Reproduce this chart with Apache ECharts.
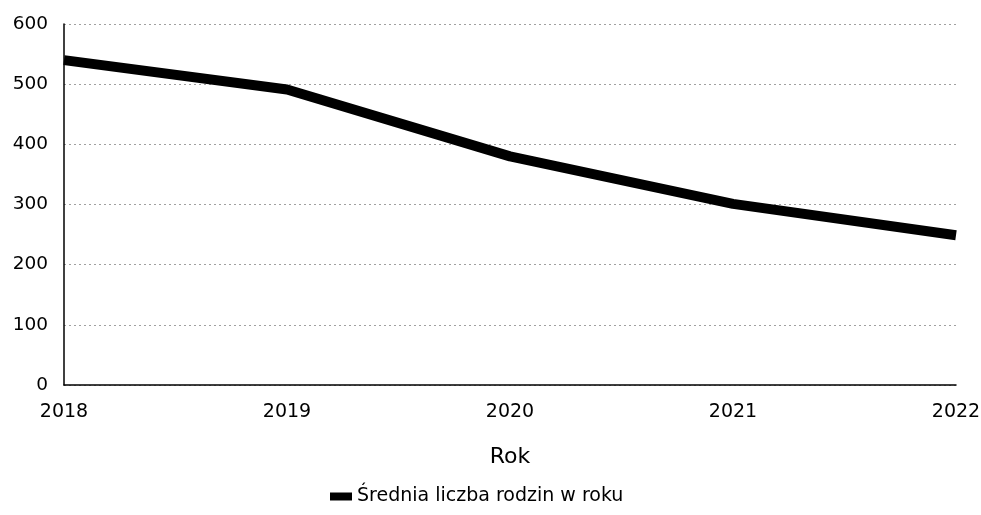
<!DOCTYPE html>
<html>
<head>
<meta charset="utf-8">
<script src="https://cdn.jsdelivr.net/npm/echarts@6/dist/echarts.min.js"></script>
<style>
  html, body { margin: 0; padding: 0; background: #fff; }
  #chart { width: 981px; height: 515px; }
</style>
</head>
<body>
<div id="chart"></div>
<script>
// Lata i średnia liczba rodzin
const years = ['2018', '2019', '2020', '2021', '2022'];
const families = [540, 491, 380, 301, 249];
const seriesName = 'Średnia liczba rodzin w roku';
const axisName = 'Rok';

const FONT = 'DejaVu Sans';

const chart = echarts.init(document.getElementById('chart'));
chart.setOption({
  backgroundColor: '#ffffff',
  animation: false,
  grid: {
    left: 64, right: 25, top: 24, bottom: 130,
    containLabel: false,
    outerBoundsMode: 'none'
  },
  xAxis: {
    type: 'category',
    data: years,
    boundaryGap: false,
    name: axisName,
    nameLocation: 'middle',
    nameGap: 61,
    nameTextStyle: { color: '#000', fontFamily: FONT, fontSize: 22 },
    axisLine: { lineStyle: { color: '#000', width: 1.5 } },
    axisTick: { show: false },
    axisLabel: { color: '#000', fontFamily: FONT, fontSize: 19, margin: 18 },
    splitLine: { show: false }
  },
  yAxis: {
    type: 'value',
    min: 0,
    max: 600,
    interval: 100,
    axisLine: { show: true, lineStyle: { color: '#000', width: 1.5 } },
    axisTick: { show: false },
    axisLabel: { color: '#000', fontFamily: FONT, fontSize: 18.5, margin: 16 },
    splitLine: { show: true, lineStyle: { color: '#a0a0a0', width: 1, type: [2, 3] } }
  },
  legend: {
    top: 482,
    left: 325,
    itemWidth: 22,
    itemHeight: 8,
    icon: 'rect',
    textStyle: { color: '#000', fontFamily: FONT, fontSize: 19 },
    data: [seriesName]
  },
  series: [{
    name: seriesName,
    type: 'line',
    data: families,
    symbol: 'none',
    lineStyle: { color: '#000', width: 10, join: 'round', cap: 'butt' },
    itemStyle: { color: '#000' }
  }]
});
</script>
</body>
</html>
